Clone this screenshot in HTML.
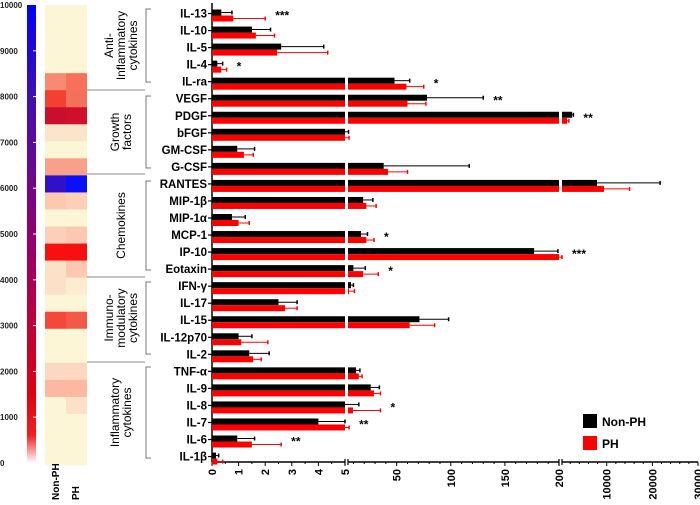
<!DOCTYPE html>
<html><head><meta charset="utf-8"><style>
body{margin:0;background:#fff;}
svg{display:block;font-family:"Liberation Sans",Arial,sans-serif;}
</style></head><body>
<svg id="c" width="700" height="505" viewBox="0 0 700 505"></svg>
<script>
const names=["IL-13","IL-10","IL-5","IL-4","IL-ra","VEGF","PDGF","bFGF","GM-CSF","G-CSF","RANTES","MIP-1β","MIP-1α","MCP-1","IP-10","Eotaxin","IFN-γ","IL-17","IL-15","IL-12p70","IL-2","TNF-α","IL-9","IL-8","IL-7","IL-6","IL-1β"];
const nonPH=[0.35,1.5,2.6,0.2,48,78,2400,5,0.95,38,7870,19,0.75,17,177,10,7.8,2.5,71,1.0,1.4,12.4,26,5,4.0,0.95,0.15];
const nonPHErr=[0.75,2.2,4.2,0.4,62,130,2700,5.5,1.6,117,21700,28,1.25,23,199,21,10,3.2,98,1.5,2.15,16,34,15,5,1.6,0.25];
const ph=[0.8,1.65,2.45,0.35,59,60,1300,5,1.2,42,9400,22,1.0,22,200,19,6,2.75,62,1.1,1.55,15,29,9.6,5,1.5,0.2];
const phErr=[2.0,2.35,4.35,0.55,75,77,1700,6,1.55,60,15000,31,1.4,29,203,33,11,3.2,85,2.1,1.85,18,35,35,6,2.6,0.4];
const stars=["***","","","*","*","**","**","","","","","","","*","***","*","","","","","","","","*","**","**",""];
const heatNon=["#fdf6d6","#fdf6d6","#fdf6d6","#fdf6d6","#f98a72","#f44030","#c8102e","#fbe5c8","#fdf6d6","#f9a088","#3010c8","#fcc8b0","#fdf6d6","#fcd0b8","#f81010","#fce0c8","#fce0c8","#fdf6d6","#f44838","#fdf6d6","#fdf6d6","#fcd8c0","#fcb8a0","#fdf6d6","#fdf6d6","#fdf6d6","#fdf6d6"];
const heatPH=["#fdf6d6","#fdf6d6","#fdf6d6","#fdf6d6","#f86f5a","#f4705a","#d0102a","#fbe5c8","#fdf6d6","#f9a088","#0a10f8","#fcd0b8","#fdf6d6","#fcc8b0","#f81010","#fcc8b0","#fcecd0","#fdf6d6","#f45848","#fdf6d6","#fdf6d6","#fcd8c0","#fcb8a0","#fce0c8","#fdf6d6","#fdf6d6","#fdf6d6"];
const seg1Ticks=[0,1,2,3,4,5];
const seg2Ticks=[50,100,150,200];
const seg3Ticks=[10000,20000,30000];
const cbTicks=[0,1000,2000,3000,4000,5000,6000,7000,8000,9000,10000];

const svg=document.getElementById('c');
const NS="http://www.w3.org/2000/svg";
function mk(t,a,p){const e=document.createElementNS(NS,t);for(const k in a)e.setAttribute(k,a[k]);(p||svg).appendChild(e);return e;}
const X0=212,B1=345,S2=348,B2=559,S3=562,XE=698,AY=462;
function xs(v){if(v<=5)return X0+v*(B1-X0)/5;if(v<=200)return S2+(v-5)*(B2-S2)/195;return S3+(v-200)*(XE-S3)/29800;}
const rowTop=5,rowH=17.04;
function yc(i){return rowTop+rowH*(i+0.5);}

const defs=mk('defs',{});
const g=mk('linearGradient',{id:'cb',x1:0,y1:1,x2:0,y2:0},defs);
[[0,'#ffffff'],[0.06,'#f02020'],[0.15,'#e00010'],[0.5,'#900070'],[0.8,'#4010b0'],[1,'#0000ff']].forEach(s=>mk('stop',{offset:s[0],'stop-color':s[1]},g));
let e=mk('rect',{x:27,y:5,width:9,height:458,fill:'url(#cb)'});


cbTicks.forEach(v=>{const y=463-v/10000*458;
 if(v>0&&v<10000)mk('line',{x1:33,x2:36,y1:y,y2:y,stroke:'#fff','stroke-width':1});
 const t=mk('text',{x:0,y:y+3,'font-size':8,'font-weight':'bold',fill:'#222'});t.textContent=v;
 
 });
names.forEach((n,i)=>{const y=rowTop+rowH*i;
 let r=mk('rect',{x:45,y:y,width:21,height:rowH+0.3,fill:heatNon[i]});
 
 
 r=mk('rect',{x:66,y:y,width:21,height:rowH+0.3,fill:heatPH[i]});
 
 });
[["Non-PH",59],["PH",79]].forEach(a=>{const t=mk('text',{x:0,y:0,transform:`translate(${a[1]},500) rotate(-90)`,'font-size':10,'font-weight':'bold'});t.textContent=a[0];
 
 });
[90,174,277,362].forEach(y=>mk('line',{x1:87,x2:145,y1:y,y2:y,stroke:'#888','stroke-width':1}));
const groups=[[9,82,["Anti-","Inflammatory","cytokines"]],[96,168,["Growth","factors"]],[181,270,["Chemokines"]],[282,354,["Immuno-","modulatory","cytokines"]],[367,458,["Inflammatory","cytokines"]]];
groups.forEach(gr=>{const [a,b,lines]=gr;
 mk('path',{d:`M151 ${a}H146V${b}H151`,fill:'none',stroke:'#777','stroke-width':1});
 const cy=(a+b)/2,n=lines.length;
 lines.forEach((l,k)=>{const x=122+(k-(n-1)/2)*12+3;
  const t=mk('text',{x:0,y:0,transform:`translate(${x},${cy}) rotate(-90)`,'text-anchor':'middle','font-size':12});t.textContent=l;
  
  });});
mk('line',{x1:X0,x2:X0,y1:3,y2:AY,stroke:'#000','stroke-width':1.5});
[[X0,B1],[S2,B2],[S3,XE]].forEach(s=>mk('line',{x1:s[0],x2:s[1],y1:AY,y2:AY,stroke:'#000','stroke-width':1.5}));
[B1,S2,B2,S3].forEach(x=>mk('line',{x1:x,x2:x,y1:AY-3,y2:AY+3,stroke:'#000','stroke-width':1.2}));
for(let v=0;v<=5;v+=0.5)mk('line',{x1:xs(v),x2:xs(v),y1:AY,y2:AY+(v%1?2:4),stroke:'#000'});
for(let v=10;v<=200;v+=10)mk('line',{x1:xs(v),x2:xs(v),y1:AY,y2:AY+(v%50?2:4),stroke:'#000'});
for(let v=2000;v<=30000;v+=2000)mk('line',{x1:xs(v),x2:xs(v),y1:AY,y2:AY+(v%10000?2:4),stroke:'#000'});
seg1Ticks.concat(seg2Ticks,seg3Ticks).forEach(v=>{const x=xs(v)+4;
 const t=mk('text',{x:0,y:0,transform:`translate(${x},${AY+7}) rotate(-90)`,'text-anchor':'end','font-size':11,'font-weight':'bold'});t.textContent=v;
 
 });
function bar(v,y,h,col){
 if(v<=5){mk('rect',{x:X0,y:y,width:xs(v)-X0,height:h,fill:col});return;}
 mk('rect',{x:X0,y:y,width:B1-X0,height:h,fill:col});
 if(v<=200){mk('rect',{x:S2,y:y,width:xs(v)-S2,height:h,fill:col});return;}
 mk('rect',{x:S2,y:y,width:B2-S2,height:h,fill:col});
 mk('rect',{x:S3,y:y,width:xs(v)-S3,height:h,fill:col});}
names.forEach((n,i)=>{const c=yc(i);
 mk('line',{x1:X0-4,x2:X0,y1:c,y2:c,stroke:'#000','stroke-width':1.2});
 const t=mk('text',{x:207,y:c+4,'text-anchor':'end','font-size':11.5,'font-weight':'bold'});t.textContent=n;
 
 
 const yb=c-4,yr=c+2;
 bar(nonPH[i],yb,6,'#000');
 mk('line',{x1:xs(nonPH[i]),x2:xs(nonPHErr[i]),y1:yb+3,y2:yb+3,stroke:'#000'});
 mk('line',{x1:xs(nonPHErr[i]),x2:xs(nonPHErr[i]),y1:yb+1,y2:yb+5,stroke:'#000','stroke-width':1.5});
 bar(ph[i],yr,6,'#f00');
 mk('line',{x1:xs(ph[i]),x2:xs(phErr[i]),y1:yr+3,y2:yr+3,stroke:'#f00'});
 mk('line',{x1:xs(phErr[i]),x2:xs(phErr[i]),y1:yr+1,y2:yr+5,stroke:'#f00','stroke-width':1.5});
 if(stars[i]){const s=mk('text',{x:Math.max(xs(nonPHErr[i]),xs(phErr[i]))+10,y:c+6,'font-size':12,'font-weight':'bold'});s.textContent=stars[i];
  
  }
});
let l=mk('rect',{x:583,y:414,width:14,height:14,fill:'#000'});

l=mk('text',{x:602,y:426,'font-size':12,'font-weight':'bold'});l.textContent='Non-PH';

l=mk('rect',{x:583,y:436,width:14,height:14,fill:'#f00'});

l=mk('text',{x:602,y:448,'font-size':12,'font-weight':'bold'});l.textContent='PH';

</script>
</body></html>
